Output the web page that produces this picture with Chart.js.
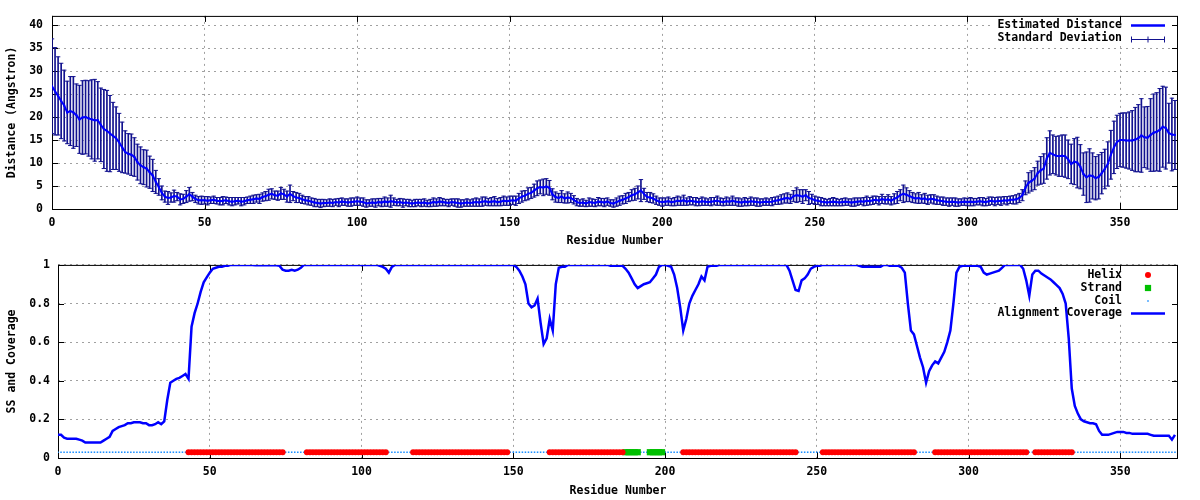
<!DOCTYPE html>
<html>
<head>
<meta charset="utf-8">
<title>Distance and SS coverage</title>
<script src="https://cdn.jsdelivr.net/npm/chart.js@4.4.0/dist/chart.umd.min.js"></script>
<style>
  html, body { margin: 0; padding: 0; background: #fff; }
  #wrap { position: relative; width: 1200px; height: 500px; }
  #wrap canvas { position: absolute; left: 0; }
  #distChart { top: 0; }
  #ssChart { top: 250px; }
</style>
</head>
<body>
<div id="wrap">
  <canvas id="distChart" width="1200" height="250"></canvas>
  <canvas id="ssChart" width="1200" height="250"></canvas>
</div>
<script>
/* ---- data (one value per residue, residue index 0..368) ---- */
const xTicks = [0, 50, 100, 150, 200, 250, 300, 350];
const distTicks = [0, 5, 10, 15, 20, 25, 30, 35, 40];
const ssTicks = [0, 0.2, 0.4, 0.6, 0.8, 1];

const distance = [
  26.7, 25.6, 24.6, 23.5, 22.5, 21.0, 21.3, 21.0, 20.4, 19.5,
  19.9, 20.0, 19.7, 19.5, 19.3, 19.3, 18.3, 17.4, 17.0, 16.4,
  15.9, 15.4, 14.5, 13.4, 12.4, 12.0, 11.8, 11.3, 10.2, 9.5,
  9.1, 8.8, 8.0, 7.3, 5.9, 4.8, 3.5, 2.7, 2.4, 2.5,
  2.8, 2.7, 2.1, 2.2, 2.7, 3.2, 2.7, 2.2, 1.9, 1.9,
  1.9, 1.8, 1.9, 2.0, 1.8, 1.7, 1.8, 1.9, 1.7, 1.6,
  1.7, 1.8, 1.6, 1.7, 1.9, 2.0, 2.1, 2.3, 2.2, 2.6,
  2.8, 3.1, 3.3, 3.0, 2.9, 3.4, 3.2, 2.7, 3.3, 2.8,
  2.5, 2.4, 2.1, 1.9, 1.8, 1.6, 1.4, 1.3, 1.2, 1.3,
  1.3, 1.4, 1.3, 1.5, 1.4, 1.6, 1.5, 1.4, 1.5, 1.6,
  1.7, 1.6, 1.5, 1.2, 1.3, 1.4, 1.3, 1.5, 1.4, 1.6,
  1.5, 1.7, 1.6, 1.4, 1.5, 1.3, 1.4, 1.3, 1.2, 1.3,
  1.4, 1.3, 1.4, 1.2, 1.3, 1.5, 1.4, 1.6, 1.5, 1.4,
  1.3, 1.5, 1.4, 1.3, 1.2, 1.3, 1.4, 1.3, 1.4, 1.5,
  1.4, 1.6, 1.7, 1.5, 1.6, 1.7, 1.5, 1.6, 1.8, 1.7,
  1.8, 1.9, 1.8, 2.3, 2.7, 2.9, 3.3, 3.5, 4.0, 4.5,
  4.8, 4.7, 4.9, 4.6, 3.2, 2.6, 2.4, 2.7, 2.3, 2.5,
  2.4, 2.0, 1.5, 1.3, 1.4, 1.2, 1.5, 1.4, 1.3, 1.6,
  1.5, 1.4, 1.6, 1.3, 1.2, 1.5, 1.8, 2.0, 2.3, 2.6,
  3.0, 3.2, 3.6, 4.0, 3.3, 2.6, 2.5, 2.3, 1.9, 1.6,
  1.5, 1.6, 1.7, 1.5, 1.6, 1.8, 1.7, 1.9, 1.6, 1.8,
  1.7, 1.6, 1.5, 1.7, 1.6, 1.5, 1.6, 1.7, 1.8, 1.6,
  1.5, 1.7, 1.6, 1.8, 1.6, 1.5, 1.4, 1.6, 1.5, 1.7,
  1.6, 1.5, 1.4, 1.5, 1.6, 1.5, 1.6, 1.8, 1.9, 2.1,
  2.3, 2.4, 2.2, 2.8, 3.0, 2.9, 2.7, 3.0, 2.4, 2.2,
  1.9, 1.8, 1.6, 1.5, 1.4, 1.5, 1.6, 1.5, 1.4, 1.5,
  1.6, 1.5, 1.4, 1.5, 1.6, 1.7, 1.6, 1.8, 1.7, 1.9,
  2.0, 1.8, 2.2, 1.9, 2.1, 1.8, 2.2, 2.5, 3.0, 3.3,
  3.1, 2.8, 2.5, 2.3, 2.4, 2.2, 2.3, 2.0, 2.2, 2.1,
  1.9, 1.8, 1.7, 1.6, 1.5, 1.6, 1.5, 1.4, 1.5, 1.6,
  1.5, 1.6, 1.5, 1.6, 1.7, 1.6, 1.5, 1.7, 1.8, 1.6,
  1.8, 1.7, 1.9, 1.8, 2.0, 2.0, 2.1, 2.4, 3.0, 4.6,
  5.7, 6.1, 6.6, 7.8, 8.4, 8.8, 11.0, 12.2, 11.9, 11.6,
  11.5, 11.6, 11.5, 10.8, 9.8, 10.3, 10.1, 9.2, 7.6, 6.9,
  7.3, 7.2, 6.7, 7.0, 7.8, 8.7, 9.8, 11.8, 13.4, 14.6,
  15.0, 15.0, 14.9, 14.9, 14.9, 15.1, 15.4, 16.0, 15.6, 15.5,
  16.1, 16.6, 16.8, 17.2, 17.9, 17.6, 16.5, 16.2, 16.1
];

const stdDev = [
  10.3, 9.5, 8.5, 8.2, 7.7, 6.8, 7.5, 7.8, 6.8, 7.4,
  8.0, 8.0, 8.2, 8.6, 8.9, 8.4, 8.0, 8.6, 8.8, 8.3,
  7.3, 6.8, 6.3, 5.5, 4.6, 4.4, 4.5, 4.2, 3.9, 4.0,
  3.8, 4.0, 3.5, 3.5, 2.5, 1.8, 1.5, 1.2, 1.4, 1.0,
  1.3, 0.9, 1.2, 1.0, 1.3, 1.5, 0.9, 0.8, 0.8, 0.9,
  0.8, 0.9, 0.7, 0.8, 0.7, 0.8, 0.9, 0.7, 0.8, 0.9,
  0.8, 0.7, 0.9, 0.8, 0.7, 0.8, 0.9, 0.8, 1.0, 0.9,
  1.0, 1.2, 1.1, 0.9, 1.0, 1.3, 1.1, 1.2, 1.9, 1.0,
  1.1, 1.0, 0.9, 0.8, 0.9, 0.8, 0.9, 0.8, 0.9, 0.8,
  0.7, 0.8, 0.8, 0.7, 0.9, 0.8, 0.7, 0.8, 0.9, 0.8,
  0.9, 0.8, 0.9, 0.8, 0.7, 0.8, 0.9, 0.8, 0.9, 1.0,
  0.9, 1.3, 0.8, 0.7, 0.8, 0.9, 0.7, 0.8, 0.7, 0.8,
  0.7, 0.8, 0.8, 0.7, 0.8, 0.9, 0.8, 0.9, 0.8, 0.7,
  0.8, 0.7, 0.8, 0.9, 0.8, 0.7, 0.8, 0.7, 0.8, 0.9,
  0.8, 1.0, 0.9, 0.8, 0.9, 1.0, 0.8, 0.9, 1.0, 0.9,
  1.0, 0.9, 1.0, 1.1, 1.2, 1.1, 1.3, 1.2, 1.4, 1.6,
  1.5, 1.8, 1.7, 1.6, 1.2, 1.1, 1.0, 1.3, 1.0, 1.2,
  1.0, 0.9, 0.8, 0.7, 0.8, 0.7, 0.9, 0.8, 0.8, 0.9,
  0.8, 0.9, 0.8, 0.7, 0.8, 0.9, 1.0, 0.9, 1.1, 1.0,
  1.2, 1.3, 1.4, 2.4, 1.2, 1.0, 1.1, 1.0, 0.9, 0.8,
  0.9, 0.8, 0.9, 0.8, 0.9, 1.0, 0.9, 1.1, 0.8, 0.9,
  0.8, 0.9, 0.8, 0.9, 0.8, 0.7, 0.9, 0.8, 1.0, 0.8,
  0.8, 0.9, 0.8, 1.0, 0.8, 0.9, 0.8, 0.9, 0.8, 0.9,
  0.8, 0.9, 0.8, 0.7, 0.8, 0.7, 0.9, 0.8, 0.9, 1.0,
  1.0, 1.1, 1.0, 1.2, 1.6, 1.3, 1.5, 1.2, 1.4, 1.0,
  0.9, 0.8, 0.9, 0.8, 0.7, 0.8, 0.9, 0.8, 0.7, 0.8,
  0.8, 0.7, 0.8, 0.9, 0.8, 0.7, 0.9, 1.0, 0.8, 0.9,
  0.8, 0.9, 1.0, 0.8, 1.0, 0.9, 1.1, 1.3, 1.2, 1.9,
  1.5, 1.2, 1.1, 1.0, 1.2, 0.9, 1.1, 1.0, 0.9, 1.0,
  0.9, 0.8, 0.9, 0.8, 0.9, 0.8, 0.9, 0.8, 0.7, 0.8,
  0.8, 0.9, 0.8, 0.7, 0.8, 0.9, 0.8, 0.9, 0.8, 0.9,
  0.8, 0.9, 0.8, 0.9, 0.8, 0.9, 1.0, 1.0, 1.2, 1.5,
  2.2, 2.2, 2.4, 2.6, 3.0, 3.2, 4.5, 4.8, 4.2, 4.2,
  4.4, 4.5, 4.6, 4.2, 4.3, 5.0, 5.5, 4.8, 4.6, 5.5,
  5.8, 5.0, 4.7, 4.8, 4.5, 4.3, 4.8, 5.3, 5.7, 5.8,
  5.8, 5.9, 6.0, 6.2, 6.5, 7.0, 7.3, 8.0, 6.6, 6.8,
  7.9, 8.4, 8.5, 9.0, 8.8, 8.9, 6.5, 7.9, 7.5
];

const coverage = [
  0.12, 0.12, 0.105, 0.10, 0.10, 0.10, 0.10, 0.095, 0.09, 0.08,
  0.08, 0.08, 0.08, 0.08, 0.08, 0.09, 0.10, 0.11, 0.14, 0.15,
  0.16, 0.165, 0.17, 0.18, 0.18, 0.185, 0.185, 0.185, 0.18, 0.18,
  0.17, 0.17, 0.175, 0.185, 0.175, 0.19, 0.30, 0.39, 0.40, 0.41,
  0.415, 0.425, 0.435, 0.41, 0.68, 0.75, 0.80, 0.86, 0.91, 0.935,
  0.96, 0.98, 0.985, 0.99, 0.99, 0.995, 0.995, 1, 1, 1,
  1, 1, 1, 1, 1, 0.998, 0.998, 0.998, 0.998, 0.998,
  0.998, 0.998, 0.998, 0.995, 0.975, 0.97, 0.97, 0.975, 0.97, 0.975,
  0.985, 1, 1, 1, 1, 1, 1, 1, 1, 1,
  1, 1, 1, 1, 1, 1, 1, 1, 1, 1,
  1, 1, 1, 1, 1, 1, 0.995, 0.99, 0.98, 0.96,
  0.99, 1, 1, 1, 1, 1, 1, 1, 1, 1,
  1, 1, 1, 1, 1, 1, 1, 1, 1, 1,
  1, 1, 1, 1, 1, 1, 1, 1, 1, 1,
  1, 1, 1, 1, 1, 1, 1, 1, 1, 1,
  1, 0.99, 0.97, 0.94, 0.90, 0.80, 0.78, 0.79, 0.825, 0.70,
  0.59, 0.62, 0.72, 0.66, 0.90, 0.985, 0.99, 0.99, 1, 1,
  1, 1, 1, 1, 1, 1, 1, 1, 1, 1,
  1, 1, 0.995, 0.995, 0.995, 0.995, 0.995, 0.98, 0.96, 0.93,
  0.90, 0.88, 0.89, 0.90, 0.905, 0.91, 0.93, 0.95, 0.99, 1,
  1, 0.995, 0.99, 0.95, 0.88, 0.78, 0.66, 0.72, 0.80, 0.84,
  0.87, 0.90, 0.94, 0.92, 0.99, 0.995, 0.995, 0.995, 1, 1,
  1, 1, 1, 1, 1, 1, 1, 1, 1, 1,
  1, 1, 1, 1, 1, 1, 1, 1, 1, 1,
  1, 0.97, 0.92, 0.87, 0.865, 0.92, 0.93, 0.95, 0.98, 0.99,
  0.995, 0.995, 1, 1, 1, 1, 1, 1, 1, 1,
  1, 1, 1, 1, 0.995, 0.99, 0.99, 0.99, 0.99, 0.99,
  0.99, 0.99, 1, 1, 0.995, 0.995, 0.995, 0.995, 0.985, 0.96,
  0.80, 0.66, 0.64, 0.58, 0.52, 0.47, 0.39, 0.45, 0.48, 0.50,
  0.49, 0.52, 0.55, 0.60, 0.66, 0.80, 0.96, 0.99, 0.995, 0.995,
  0.995, 0.995, 0.995, 0.995, 0.99, 0.96, 0.95, 0.955, 0.96, 0.965,
  0.97, 0.985, 1, 1, 1, 1, 1, 1, 0.98, 0.92,
  0.84, 0.95, 0.97, 0.97, 0.955, 0.945, 0.935, 0.925, 0.91, 0.895,
  0.88, 0.85, 0.80, 0.62, 0.36, 0.27, 0.23, 0.20, 0.19, 0.185,
  0.18, 0.18, 0.175, 0.14, 0.12, 0.12, 0.12, 0.125, 0.13, 0.135,
  0.135, 0.135, 0.13, 0.13, 0.125, 0.125, 0.125, 0.125, 0.125, 0.125,
  0.12, 0.115, 0.115, 0.115, 0.115, 0.115, 0.115, 0.095, 0.12
];

// secondary structure: residue ranges (inclusive), everything else is coil
const helixRanges = [[43, 74], [82, 108], [117, 148], [162, 186], [206, 243], [252, 282], [289, 319], [322, 334]];
const strandRanges = [[187, 191], [195, 199]];
const ssLevel = 0.03;

/* ---- derived point lists ---- */
const inRanges = (r, ranges) => ranges.some(([a, b]) => r >= a && r <= b);
const meanPts = distance.map((d, i) => ({ x: i, y: d }));
const barPts = distance.map((d, i) => ({ x: i, y: [d - stdDev[i], d + stdDev[i]] }));
const capPts = distance.flatMap((d, i) => [{ x: i, y: d - stdDev[i] }, { x: i, y: d + stdDev[i] }]);
const coveragePts = coverage.map((c, i) => ({ x: i, y: c }));
const helixPts = [], strandPts = [], coilPts = [];
coverage.forEach((c, i) => {
    if (inRanges(i, helixRanges)) helixPts.push({ x: i, y: ssLevel });
    else if (inRanges(i, strandRanges)) strandPts.push({ x: i, y: ssLevel });
    else coilPts.push({ x: i, y: ssLevel });
});

/* ---- look ---- */
const FONT = '"DejaVu Sans Mono", "Liberation Mono", monospace';
Chart.defaults.font.family = FONT;
Chart.defaults.font.size = 11.5;
Chart.defaults.font.weight = 'bold';
Chart.defaults.color = '#000';

const LINE_BLUE = '#0000ff';
const BAR_NAVY = '#12128f';
const COIL_BLUE = '#1e90ff';
const GRID = '#a0a0a0';

// gnuplot-like frame, inward tick marks and the key
const gnuFrame = {
    id: 'gnuFrame',
    beforeDatasetsDraw(chart, args, opts) {
        const { ctx, chartArea: a, scales: { x, y } } = chart;
        ctx.save();
        if (opts.keyBox) {
            const b = opts.keyBox;
            ctx.fillStyle = '#fff';
            ctx.fillRect(b.x, b.y, b.w, b.h);
        }
        ctx.strokeStyle = '#000';
        ctx.lineWidth = 1;
        ctx.beginPath();
        opts.xTicks.forEach(v => {
            const p = Math.round(x.getPixelForValue(v)) + 0.5;
            ctx.moveTo(p, a.bottom); ctx.lineTo(p, a.bottom - 6);
            ctx.moveTo(p, a.top); ctx.lineTo(p, a.top + 6);
        });
        opts.yTicks.forEach(v => {
            const p = Math.round(y.getPixelForValue(v)) + 0.5;
            ctx.moveTo(a.left, p); ctx.lineTo(a.left + 6, p);
            ctx.moveTo(a.right, p); ctx.lineTo(a.right - 6, p);
        });
        ctx.stroke();
        ctx.strokeRect(a.left + 0.5, a.top + 0.5, a.right - a.left - 1, a.bottom - a.top);
        ctx.restore();
    },
    afterDatasetsDraw(chart, args, opts) {
        const ctx = chart.ctx;
        ctx.save();
        // key: right aligned text, sample to its right
        ctx.font = 'bold 11.5px ' + FONT;
        ctx.textAlign = 'right';
        ctx.textBaseline = 'middle';
        (opts.key || []).forEach(k => {
            ctx.fillStyle = '#000';
            ctx.fillText(k.label, opts.keyTextX, k.y);
            const x0 = opts.keyTextX + 9, x1 = opts.keyTextX + 43, xm = (x0 + x1) / 2;
            ctx.strokeStyle = k.color;
            ctx.fillStyle = k.color;
            if (k.type === 'line') {
                ctx.lineWidth = k.width;
                ctx.beginPath(); ctx.moveTo(x0, k.y); ctx.lineTo(x1, k.y); ctx.stroke();
            } else if (k.type === 'errorbar') {
                ctx.lineWidth = 1;
                const yy = Math.round(k.y) + 0.5;
                ctx.beginPath();
                ctx.moveTo(x0, yy); ctx.lineTo(x1, yy);
                ctx.moveTo(x0 + 0.5, yy - 3); ctx.lineTo(x0 + 0.5, yy + 3);
                ctx.moveTo(x1 - 0.5, yy - 3); ctx.lineTo(x1 - 0.5, yy + 3);
                ctx.moveTo(xm, yy - 3); ctx.lineTo(xm, yy + 3);
                ctx.stroke();
            } else if (k.type === 'point') {
                Chart.helpers.drawPoint(ctx, { pointStyle: k.style, radius: k.radius, rotation: 0, borderWidth: 0 }, xm, k.y);
            }
        });
        ctx.restore();
    }
};

function xScale(title, height) {
    return {
        type: 'linear', min: 0, max: 369, offset: false,
        afterBuildTicks: s => { s.ticks = xTicks.map(v => ({ value: v })); },
        afterFit: s => { s.height = height; },
        grid: { color: GRID, lineWidth: 1, drawTicks: false, offset: false },
        border: { display: false, dash: [2, 4] },
        ticks: { padding: 7, maxRotation: 0, autoSkip: false },
        title: { display: true, text: title, padding: { top: 0, bottom: 2 } }
    };
}

/* ---- top: estimated distance with standard deviation ---- */
new Chart(document.getElementById('distChart'), {
    type: 'line',
    data: {
        datasets: [
            { label: 'Estimated Distance', data: meanPts, order: 0,
              borderColor: LINE_BLUE, borderWidth: 2, tension: 0,
              pointStyle: 'rect', pointRadius: 1.4, pointBackgroundColor: LINE_BLUE, pointBorderWidth: 0 },
            { type: 'bar', label: 'Standard Deviation', data: barPts, order: 2,
              backgroundColor: BAR_NAVY, barThickness: 1, borderWidth: 0, grouped: false },
            { label: 'caps', data: capPts, order: 1, showLine: false,
              pointStyle: 'line', pointRadius: 2.2, pointBorderColor: BAR_NAVY, pointBorderWidth: 1 }
        ]
    },
    options: {
        responsive: false, animation: false, devicePixelRatio: 1, events: [],
        layout: { padding: { top: 14, right: 22, left: 0, bottom: 0 } },
        plugins: {
            legend: { display: false }, tooltip: { enabled: false },
            gnuFrame: {
                xTicks, yTicks: distTicks, keyTextX: 1122,
                keyBox: { x: 994, y: 15, w: 183, h: 31 },
                key: [
                    { label: 'Estimated Distance', y: 25.5, type: 'line', color: LINE_BLUE, width: 2.5 },
                    { label: 'Standard Deviation', y: 38.5, type: 'errorbar', color: BAR_NAVY }
                ]
            }
        },
        scales: {
            x: xScale('Residue Number', 41),
            y: {
                min: 0, max: 42,
                afterBuildTicks: s => { s.ticks = distTicks.map(v => ({ value: v })); },
                afterFit: s => { s.width = 52; },
                grid: { color: GRID, lineWidth: 1, drawTicks: false },
                border: { display: false, dash: [2, 4] },
                ticks: { padding: 9 },
                title: { display: true, text: 'Distance (Angstron)', padding: { top: 5, bottom: 0 } }
            }
        }
    },
    plugins: [gnuFrame]
});

/* ---- bottom: secondary structure and alignment coverage ---- */
new Chart(document.getElementById('ssChart'), {
    type: 'line',
    data: {
        datasets: [
            { label: 'Alignment Coverage', data: coveragePts, order: 0,
              borderColor: LINE_BLUE, borderWidth: 2.5, tension: 0, pointRadius: 0 },
            { label: 'Helix', data: helixPts, order: 1, showLine: false,
              pointStyle: 'circle', pointRadius: 3, pointBackgroundColor: '#ff0000', pointBorderWidth: 0 },
            { label: 'Strand', data: strandPts, order: 1, showLine: false,
              pointStyle: 'rect', pointRadius: 4.4, pointBackgroundColor: '#00c000', pointBorderWidth: 0 },
            { label: 'Coil', data: coilPts, order: 2, showLine: false,
              pointStyle: 'rect', pointRadius: 1.1, pointBackgroundColor: COIL_BLUE, pointBorderWidth: 0 }
        ]
    },
    options: {
        responsive: false, animation: false, devicePixelRatio: 1, events: [],
        layout: { padding: { top: 13, right: 22, left: 0, bottom: 0 } },
        plugins: {
            legend: { display: false }, tooltip: { enabled: false },
            gnuFrame: {
                xTicks, yTicks: ssTicks, keyTextX: 1122,
                keyBox: { x: 996, y: 15, w: 181, h: 57 },
                key: [
                    { label: 'Helix', y: 25, type: 'point', style: 'circle', radius: 3, color: '#ff0000' },
                    { label: 'Strand', y: 38, type: 'point', style: 'rect', radius: 4.4, color: '#00c000' },
                    { label: 'Coil', y: 51, type: 'point', style: 'rect', radius: 1.1, color: COIL_BLUE },
                    { label: 'Alignment Coverage', y: 63.5, type: 'line', color: LINE_BLUE, width: 2.5 }
                ]
            }
        },
        scales: {
            x: xScale('Residue Number', 42),
            y: {
                min: 0, max: 1,
                afterBuildTicks: s => { s.ticks = ssTicks.map(v => ({ value: v })); },
                afterFit: s => { s.width = 58; },
                grid: { color: GRID, lineWidth: 1, drawTicks: false },
                border: { display: false, dash: [2, 4] },
                ticks: { padding: 8, callback: v => String(Math.round(v * 10) / 10) },
                title: { display: true, text: 'SS and Coverage', padding: { top: 5, bottom: 0 } }
            }
        }
    },
    plugins: [gnuFrame]
});
</script>
</body>
</html>
